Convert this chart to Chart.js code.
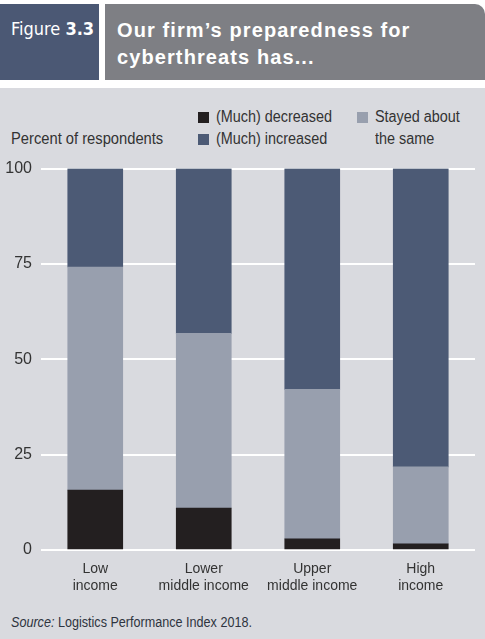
<!DOCTYPE html>
<html>
<head>
<meta charset="utf-8">
<script src="https://cdn.jsdelivr.net/npm/chart.js"></script>
<style>
  html, body { margin: 0; padding: 0; }
  body { width: 485px; height: 639px; background: #d9dadf; position: relative; overflow: hidden;
         font-family: 'Liberation Sans', Arial, sans-serif; color: #333; }
  #top { position: absolute; left: 0; top: 0; width: 485px; height: 88px; background: #fff; }
  #figBox { position: absolute; left: 0; top: 4px; width: 99px; height: 76px; background: #4b5874;
            color: #fff; font-size: 18px; line-height: 22px; font-family: 'DejaVu Sans Condensed', sans-serif; }
  #figBox span { position: absolute; left: 11px; top: 14px; white-space: nowrap; }
  #titleBox { position: absolute; left: 105px; top: 4px; width: 380px; height: 76px; background: #7e7f84;
              border-top-right-radius: 10px; color: #fff; }
  #titleBox div { position: absolute; left: 12px; top: 13px;
                  font-weight: bold; font-size: 20px; line-height: 27px; letter-spacing: 1.1px; white-space: nowrap; }
  .nar { display: inline-block; transform: scaleX(0.9); transform-origin: left center; white-space: nowrap; }
  .lg { position: absolute; font-size: 16px; line-height: 22px; white-space: nowrap; color: #333; }
  .sw { position: absolute; width: 11px; height: 11px; }
  #yTitle { position: absolute; left: 11px; top: 128px; font-size: 16px; line-height: 22px; }
  #wrap { position: absolute; left: 0; top: 150px; width: 485px; height: 450px; }
  #source { position: absolute; left: 11px; top: 613px; font-size: 14px; line-height: 18px; color: #2e3440; white-space: nowrap; }
</style>
</head>
<body>
<div id="top"></div>
<div id="figBox"><span>Figure <b>3.3</b></span></div>
<div id="titleBox"><div>Our firm’s preparedness for<br>cyberthreats has...</div></div>

<div id="yTitle"><span class="nar" style="transform: scaleX(0.92)">Percent of respondents</span></div>
<div id="legend"></div>

<div id="wrap"><canvas id="c" width="485" height="450"></canvas></div>
<div id="source"><span class="nar"><i>Source:</i> Logistics Performance Index 2018.</span></div>

<script>
// Datos (porcentaje de encuestados)
const categories = [['Low', 'income'], ['Lower', 'middle income'], ['Upper', 'middle income'], ['High', 'income']];
const decreased = [15.7, 11.0, 2.9, 1.6];
const stayed = [58.5, 45.8, 39.2, 20.2];
const increased = [25.8, 43.2, 57.9, 78.2];
const yTicks = [0, 25, 50, 75, 100];

const COLORS = { decreased: '#231f20', stayed: '#989fae', increased: '#4c5a75' };
const FONT = "'Liberation Sans', Arial, sans-serif";

// Leyenda en HTML (dos columnas como el original)
const legendItems = [
  { text: '(Much) decreased', color: COLORS.decreased, x: 198, y: 112 },
  { text: '(Much) increased', color: COLORS.increased, x: 198, y: 134 },
  { text: 'Stayed about<br>the same', color: COLORS.stayed, x: 357, y: 112 }
];
const lg = document.getElementById('legend');
for (const it of legendItems) {
  const sw = document.createElement('div');
  sw.className = 'sw';
  sw.style.left = it.x + 'px';
  sw.style.top = it.y + 'px';
  sw.style.background = it.color;
  lg.appendChild(sw);
  const t = document.createElement('div');
  t.className = 'lg';
  t.style.left = (it.x + 18) + 'px';
  t.style.top = (it.y - 6) + 'px';
  t.innerHTML = `<span class="nar">${it.text}</span>`;
  lg.appendChild(t);
}

const ds = (label, data, color) => ({
  label, data, backgroundColor: color, borderWidth: 0,
  barThickness: 55, stack: 's'
});

new Chart(document.getElementById('c'), {
  type: 'bar',
  data: {
    labels: categories,
    datasets: [
      ds('(Much) decreased', decreased, COLORS.decreased),
      ds('Stayed about the same', stayed, COLORS.stayed),
      ds('(Much) increased', increased, COLORS.increased)
    ]
  },
  options: {
    responsive: false,
    animation: false,
    layout: { padding: { top: 18, right: 10, left: 0, bottom: 0 } },
    plugins: { legend: { display: false }, tooltip: { enabled: false } },
    scales: {
      x: {
        stacked: true,
        grid: { display: false, drawTicks: false },
        border: { display: false },
        ticks: { color: '#333', font: { family: FONT, size: 14 }, padding: 11, maxRotation: 0, autoSkip: false },
        afterFit: (s) => { s.height = 50; }
      },
      y: {
        stacked: true,
        min: 0, max: 100,
        afterBuildTicks: (s) => { s.ticks = yTicks.map(v => ({ value: v })); },
        grid: { color: '#ffffff', lineWidth: 2, drawTicks: false },
        border: { display: false },
        ticks: { color: '#333', font: { family: FONT, size: 16 }, padding: 9 },
        afterFit: (s) => { s.width = 41; }
      }
    }
  }
});
</script>
</body>
</html>
